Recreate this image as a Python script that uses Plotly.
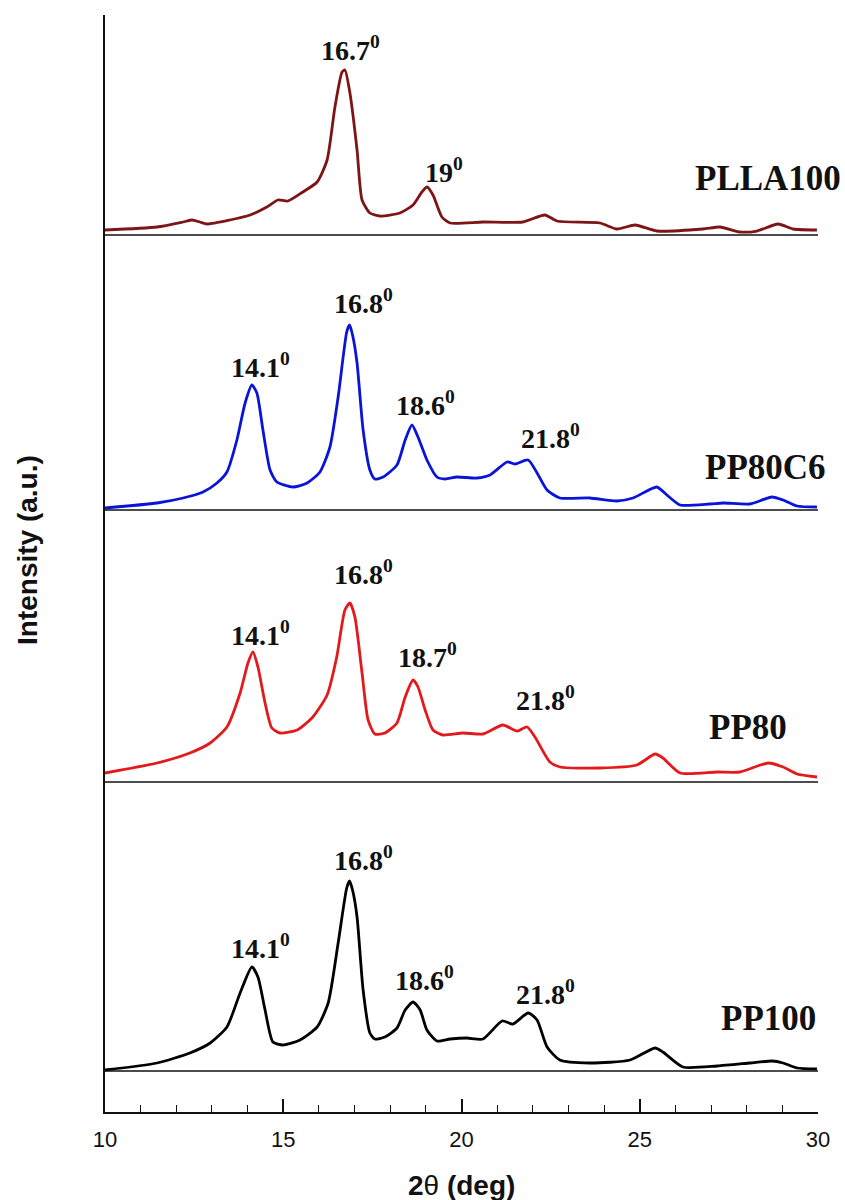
import plotly.graph_objects as go

# ---------------- data (2θ in degrees, intensity in a.u. above each trace's baseline) ----------------
tt_plla = [10.0, 11.46, 12.19, 12.44, 12.66, 12.86, 13.5, 14.07, 14.54, 14.85, 15.13, 15.55, 15.95, 16.23,
           16.45, 16.65, 16.73, 16.87, 17.07, 17.21, 17.43, 17.71, 18.27, 18.64, 18.89, 19.03, 19.2, 19.45,
           19.68, 20.6, 21.72, 22.34, 22.68, 23.88, 24.36, 24.87, 25.48, 26.77, 27.25, 27.81, 28.29, 28.88,
           29.3, 29.97]
int_plla = [5, 8, 13, 15, 13, 11, 15, 20, 28, 35, 34, 43, 53, 75,
            128, 163, 165, 142, 85, 35, 22, 19, 22, 30, 43, 48, 40, 18,
            12, 13, 13, 20, 14, 12, 6, 10, 4, 6, 8, 3, 4, 11,
            6, 5]

tt_pp80c6 = [10.0, 11.46, 12.19, 12.75, 13.14, 13.42, 13.7, 13.93, 14.12, 14.26, 14.43, 14.63, 14.82, 15.27,
             15.67, 16.03, 16.31, 16.54, 16.78, 16.86, 16.95, 17.07, 17.24, 17.43, 17.57, 17.8, 18.19, 18.42,
             18.61, 18.78, 19.03, 19.31, 19.54, 19.87, 20.43, 20.8, 21.28, 21.5, 21.87, 22.12, 22.4, 22.76,
             23.6, 24.36, 24.81, 25.48, 25.76, 26.13, 26.97, 27.34, 28.09, 28.71, 29.02, 29.41, 29.97]
int_pp80c6 = [2, 7, 12, 18, 27, 38, 70, 107, 125, 117, 80, 40, 28, 23,
              27, 38, 63, 113, 178, 185, 174, 147, 80, 40, 31, 33, 45, 70,
              85, 73, 50, 33, 31, 33, 32, 35, 48, 46, 50, 37, 20, 12,
              12, 9, 12, 23, 15, 5, 6, 7, 6, 13, 10, 4, 3]

tt_pp80 = [10.0, 11.46, 12.38, 12.95, 13.42, 13.79, 14.01, 14.15, 14.29, 14.49, 14.68, 14.91, 15.39, 15.83,
           16.23, 16.5, 16.73, 16.87, 17.01, 17.21, 17.38, 17.57, 17.85, 18.19, 18.42, 18.64, 18.78, 18.98,
           19.2, 19.48, 20.04, 20.6, 21.16, 21.56, 21.84, 22.06, 22.48, 22.76, 23.88, 24.92, 25.43, 25.65,
           26.13, 27.17, 27.81, 28.6, 29.02, 29.41, 29.97]
int_pp80 = [9, 19, 29, 39, 55, 89, 119, 130, 115, 79, 54, 49, 52, 65,
            87, 125, 172, 179, 165, 109, 62, 48, 49, 59, 85, 102, 95, 72,
            52, 47, 49, 48, 57, 51, 55, 45, 20, 15, 14, 17, 28, 24,
            9, 10, 10, 19, 15, 8, 5]

tt_pp100 = [10.0, 11.46, 12.38, 12.95, 13.42, 13.79, 14.12, 14.29, 14.49, 14.71, 14.99, 15.47, 15.95, 16.26,
            16.54, 16.78, 16.86, 16.95, 17.07, 17.24, 17.43, 17.57, 17.85, 18.19, 18.42, 18.64, 18.84, 19.03,
            19.31, 19.68, 20.15, 20.6, 21.14, 21.44, 21.87, 22.12, 22.4, 22.76, 23.6, 24.73, 25.43, 25.65,
            26.21, 27.17, 28.09, 28.71, 29.02, 29.41, 29.97]
int_pp100 = [1, 8, 18, 28, 44, 78, 104, 94, 61, 29, 26, 31, 44, 68,
             128, 183, 190, 180, 154, 81, 38, 32, 34, 43, 61, 69, 61, 41,
             30, 32, 33, 32, 50, 47, 58, 51, 24, 11, 8, 11, 23, 19,
             4, 5, 8, 10, 8, 3, 2]

sample_names = ["PP100", "PP80", "PP80C6", "PLLA100"]

peak_labels_pp100 = ["14.1", "16.8", "18.6", "21.8"]
peak_labels_pp80 = ["14.1", "16.8", "18.7", "21.8"]
peak_labels_pp80c6 = ["14.1", "16.8", "18.6", "21.8"]
peak_labels_plla = ["16.7", "19"]

x_ticks = [10, 15, 20, 25, 30]

# ---------------- layout / styling (not data) ----------------
stack_offset = {"PP100": 41, "PP80": 330, "PP80C6": 602, "PLLA100": 877}
colors = {"PP100": "#000000", "PP80": "#e3191c", "PP80C6": "#0a14d8", "PLLA100": "#7d1416"}
series = {
    "PP100": (tt_pp100, int_pp100),
    "PP80": (tt_pp80, int_pp80),
    "PP80C6": (tt_pp80c6, int_pp80c6),
    "PLLA100": (tt_plla, int_plla),
}
# label anchor points (x in deg, y in plot units)
peak_label_pos = {
    "PP100": [(14.35, 166), (17.24, 254), (18.95, 134), (22.37, 120)],
    "PP80": [(14.35, 479), (17.24, 540), (19.06, 457), (22.37, 414)],
    "PP80C6": [(14.35, 747), (17.24, 811), (19.0, 709), (22.51, 676)],
    "PLLA100": [(16.9, 1064), (19.51, 942)],
}
peak_labels = {"PP100": peak_labels_pp100, "PP80": peak_labels_pp80,
               "PP80C6": peak_labels_pp80c6, "PLLA100": peak_labels_plla}
name_label_pos = {"PP100": (28.6, 94), "PP80": (28.04, 385), "PP80C6": (28.54, 645), "PLLA100": (28.6, 934)}

serif = "Times New Roman, Liberation Serif, serif"
sans = "Arial, Liberation Sans, sans-serif"

fig = go.Figure()
shapes = []
annotations = []
for name in sample_names:
    tt, inten = series[name]
    off = stack_offset[name]
    fig.add_trace(go.Scatter(
        x=tt, y=[v + off for v in inten], mode="lines", name=name,
        line=dict(color=colors[name], width=2.8, shape="spline", smoothing=0.6),
        showlegend=False, cliponaxis=False))
    shapes.append(dict(type="line", xref="x", yref="y", x0=10, x1=30, y0=off, y1=off,
                       line=dict(color="#111111", width=1.6)))
    for txt, (px, py) in zip(peak_labels[name], peak_label_pos[name]):
        annotations.append(dict(x=px, y=py, xref="x", yref="y", showarrow=False,
                                xanchor="center", yanchor="middle",
                                text=f"<b>{txt}<sup>0</sup></b>",
                                font=dict(family=serif, size=28, color="#111111")))
    nx, ny = name_label_pos[name]
    annotations.append(dict(x=nx, y=ny, xref="x", yref="y", showarrow=False,
                            xanchor="center", yanchor="middle",
                            text=f"<b>{name}</b>",
                            font=dict(family=serif, size=35, color="#111111")))

# axis titles
annotations.append(dict(x=(27 - 105) / 713, y=(1112 - 550) / 1097, xref="paper", yref="paper",
                        xanchor="center", yanchor="middle",
                        showarrow=False, textangle=-90, text="<b>Intensity (a.u.)</b>",
                        font=dict(family=sans, size=28, color="#111111")))
annotations.append(dict(x=(461 - 105) / 713, y=(1112 - 1185) / 1097, xref="paper", yref="paper",
                        xanchor="center", yanchor="middle",
                        showarrow=False, text="<b>2</b>θ<b> (deg)</b>",
                        font=dict(family=sans, size=28, color="#111111")))

fig.update_layout(
    width=845, height=1200,
    margin=dict(l=105, r=27, t=15, b=88),
    paper_bgcolor="white", plot_bgcolor="white",
    shapes=shapes, annotations=annotations,
    xaxis=dict(range=[10, 30], tickvals=x_ticks, ticktext=[str(t) for t in x_ticks],
               ticks="inside", ticklen=13, tickwidth=1.6, tickcolor="#111111",
               minor=dict(dtick=1, tick0=10, ticks="inside", ticklen=7, tickwidth=1.4, tickcolor="#111111"),
               showline=True, linecolor="#111111", linewidth=1.8, showgrid=False, zeroline=False,
               tickfont=dict(family=sans, size=22, color="#111111"), ticklabelstandoff=7),
    yaxis=dict(range=[0, 1097], showticklabels=False, ticks="", showline=True,
               linecolor="#111111", linewidth=1.8, showgrid=False, zeroline=False),
)

fig.write_html("out.html")
